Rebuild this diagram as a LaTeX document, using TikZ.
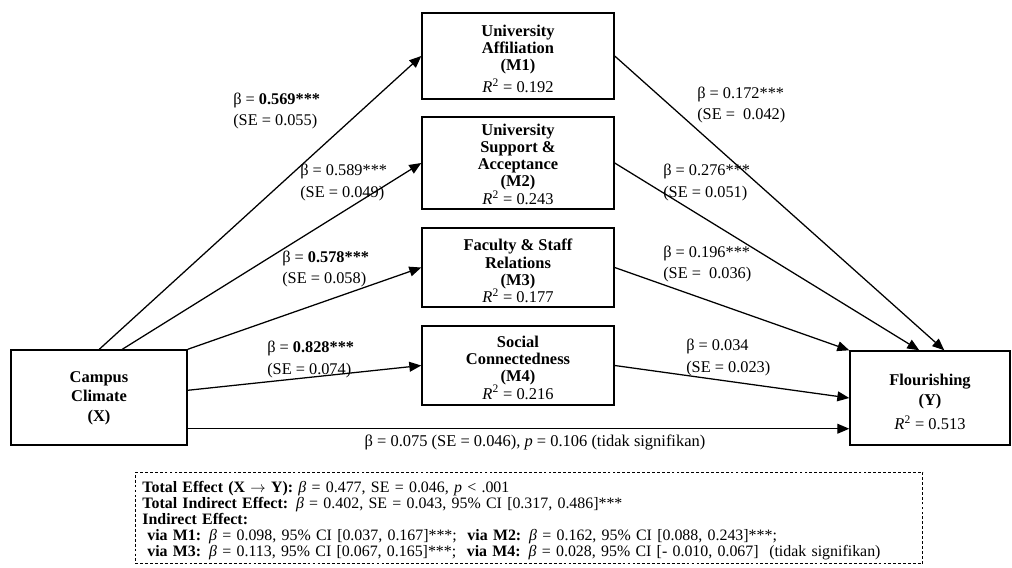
\documentclass[tikz,border=0pt]{standalone}
\usepackage{fontspec}
\setmainfont{Liberation Serif}
\usetikzlibrary{arrows.meta,calc}

\begin{document}
\begin{tikzpicture}[x=0.025cm,y=-0.025cm,font=\fontsize{11.7}{12.3}\selectfont,
  var/.style={draw,line width=1pt,inner sep=0pt},
  vtext/.style={align=center,inner sep=0pt},
  arr/.style={line width=0.9pt,-{Triangle[length=8.5pt,width=7pt]}},
  coef/.style={anchor=west,align=left,inner sep=0pt,font=\fontsize{11.6}{15.3}\selectfont},
  note/.style={draw,line width=0.6pt,dash pattern=on 2pt off 1.5pt,anchor=north west,align=left,
    text width=550pt,inner xsep=5pt,inner ysep=0pt,font=\fontsize{11.3}{11.4}\selectfont}]
\useasboundingbox (0,0) rectangle (1012,567);

\node[var,minimum width=4.4cm,minimum height=2.375cm] (X) at (99,397.5) {};
\node[var,minimum width=4.8cm,minimum height=2.15cm] (M1) at (518,56) {};
\node[var,minimum width=4.8cm,minimum height=2.3cm] (M2) at (518,163) {};
\node[var,minimum width=4.8cm,minimum height=1.975cm] (M3) at (518,267.5) {};
\node[var,minimum width=4.8cm,minimum height=1.975cm] (M4) at (518,365.5) {};
\node[var,minimum width=4cm,minimum height=2.35cm] (Y) at (930,398) {};

\node[vtext] (X-txt) at (99,398) {\textbf{Campus}\\[1pt]\textbf{Climate}\\[2pt]\textbf{(X)}};
\node[vtext] (M1-txt) at (518,58.5) {\textbf{University}\\\textbf{Affiliation}\\\textbf{(M1)}\\[3pt]\textit{R}\textsuperscript{2} = 0.192};
\node[vtext,font=\fontsize{11.7}{12}\selectfont] (M2-txt) at (518,164.5) {\textbf{University}\\\textbf{Support \&}\\\textbf{Acceptance}\\\textbf{(M2)}\\\textit{R}\textsuperscript{2} = 0.243};
\node[vtext] (M3-txt) at (518,271) {\textbf{Faculty \& Staff}\\\textbf{Relations}\\\textbf{(M3)}\\\textit{R}\textsuperscript{2} = 0.177};
\node[vtext] (M4-txt) at (518,367.5) {\textbf{Social}\\\textbf{Connectedness}\\\textbf{(M4)}\\\textit{R}\textsuperscript{2} = 0.216};
\node[vtext] (Y-txt) at (930,402) {\textbf{Flourishing}\\[2pt]\textbf{(Y)}\\[5pt]\textit{R}\textsuperscript{2} = 0.513};

\draw[arr] ($(X.north west)+(89,0)$) -- (M1.west);
\draw[arr] ($(X.north west)+(112,0)$) -- (M2.west);
\draw[arr] (X.north east) -- (M3.west);
\draw[arr] ($(X.north east)+(0,41)$) -- (M4.west);
\draw[arr] ($(X.south east)+(0,-17)$) -- ($(Y.south west)+(0,-17)$);
\draw[arr] (M1.east) -- ($(Y.north west)+(95,0)$);
\draw[arr] (M2.east) -- ($(Y.north west)+(70,0)$);
\draw[arr] (M3.east) -- (Y.north west);
\draw[arr] (M4.east) -- (Y.west);

\foreach \n/\x/\y/\b/\s in {a1/233/111/{\textbf{0.569***}}/0.055, a2/300/182.5/{0.589***}/0.049,
  a3/282/269/{\textbf{0.578***}}/0.058, a4/267/359.5/{\textbf{0.828***}}/0.074,
  b1/697/105/{0.172***}/{\ 0.042}, b2/663/182.5/{0.276***}/0.051,
  b3/663/264/{0.196***}/{\ 0.036}, b4/686/357.5/{0.034}/0.023}
  \node[coef] (\n) at (\x,\y) {β = \b\\(SE = \s)};

\node (direct) at (535,442) {β = 0.075 (SE = 0.046), \textit{p} = 0.106 (tidak signifikan)};

\node[note] (effects) at (135,472) {%
\rule{0pt}{14.2pt}\textbf{Total Effect (X $\rightarrow$ Y):} \textit{β} = 0.477, SE = 0.046, \textit{p} < .001\\
\textbf{Total Indirect Effect:} \textit{β} = 0.402, SE = 0.043, 95\% CI [0.317, 0.486]***\\
\textbf{Indirect Effect:}\\
\hspace*{3.5pt}\textbf{via M1:} \textit{β} = 0.098, 95\% CI [0.037, 0.167]***; \ \textbf{via M2:} \textit{β} = 0.162, 95\% CI [0.088, 0.243]***;\\
\hspace*{3.5pt}\textbf{via M3:} \textit{β} = 0.113, 95\% CI [0.067, 0.165]***; \ \textbf{via M4:} \textit{β} = 0.028, 95\% CI [- 0.010, 0.067] \ (tidak signifikan)\rule[-5pt]{0pt}{0pt}};
\end{tikzpicture}
\end{document}
